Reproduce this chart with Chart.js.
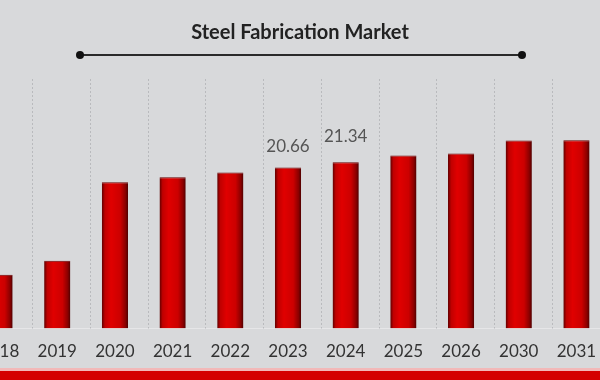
<!DOCTYPE html>
<html>
<head>
<meta charset="utf-8">
<script src="https://cdn.jsdelivr.net/npm/chart.js@4.4.1/dist/chart.umd.min.js"></script>
<style>
  html, body { margin: 0; padding: 0; width: 600px; height: 380px; overflow: hidden; background: #d8d9db; }
  #wrap { position: relative; width: 600px; height: 380px; overflow: hidden; }
  #title { position: absolute; left: 0; top: 19px; width: 600px; text-align: center; font: bold 20px Lato, sans-serif; color: #222; }
  #rule { position: absolute; left: 80px; top: 54px; width: 442px; height: 2px; background: #2a2a2a; }
  .dot { position: absolute; top: 51px; width: 8px; height: 8px; border-radius: 50%; background: #111; }
  #chartBox { position: absolute; left: -33px; top: 0; width: 642px; height: 375px; }
  #pink { position: absolute; left: 0; top: 368px; width: 600px; height: 3px; background: #f2b8b8; }
  #band { position: absolute; left: 0; top: 371px; width: 600px; height: 9px; background: #d40000; }
</style>
</head>
<body>
<div id="wrap">
  <div id="chartBox"><canvas id="c" width="642" height="375"></canvas></div>
  <div id="title">Steel Fabrication Market</div>
  <div id="rule"></div>
  <div class="dot" style="left:76px"></div>
  <div class="dot" style="left:518px"></div>
  <div id="pink"></div>
  <div id="band"></div>
</div>
<script>
const categories = ['2018', '2019', '2020', '2021', '2022', '2023', '2024', '2025', '2026', '2030', '2031'];
const marketValues = [6.9, 8.7, 18.75, 19.4, 20.0, 20.66, 21.34, 22.2, 22.45, 24.1, 24.15];
const labelledIndexes = [5, 6];

const gridPlugin = {
  id: 'shiftedGrid',
  beforeDatasetsDraw(chart) {
    const x = chart.scales.x, a = chart.chartArea, ctx = chart.ctx;
    ctx.save();
    ctx.strokeStyle = '#b9babd';
    ctx.lineWidth = 1;
    ctx.setLineDash([2, 2]);
    for (let i = 0; i < categories.length - 1; i++) {
      const px = Math.round((x.getPixelForValue(i) + x.getPixelForValue(i + 1)) / 2 + 4) + 0.5;
      ctx.beginPath();
      ctx.moveTo(px, a.top);
      ctx.lineTo(px, a.bottom);
      ctx.stroke();
    }
    ctx.restore();
  }
};

const labelPlugin = {
  id: 'valueLabels',
  afterDatasetsDraw(chart, args, opts) {
    const meta = chart.getDatasetMeta(0), ctx = chart.ctx;
    ctx.save();
    ctx.font = '17px Lato, sans-serif';
    ctx.fillStyle = '#555';
    ctx.textAlign = 'center';
    ctx.textBaseline = 'middle';
    labelledIndexes.forEach((i, k) => {
      const el = meta.data[i];
      ctx.fillText(marketValues[i].toFixed(2), el.x, el.y - opts.offsets[k]);
    });
    ctx.restore();
  }
};

function barGradient(context) {
  const chart = context.chart;
  const xs = chart.scales && chart.scales.x;
  if (!chart.chartArea || !xs || context.dataIndex === undefined) return '#cc0000';
  const cx = xs.getPixelForValue(context.dataIndex);
  const w = (xs.width / categories.length) * 0.9 * 0.505;
  if (!isFinite(cx) || !isFinite(w)) return '#cc0000';
  const g = chart.ctx.createLinearGradient(cx - w / 2, 0, cx + w / 2, 0);
  g.addColorStop(0, '#5e0000');
  g.addColorStop(0.12, '#c00000');
  g.addColorStop(0.35, '#e00000');
  g.addColorStop(0.7, '#cc0000');
  g.addColorStop(0.9, '#8a0000');
  g.addColorStop(1, '#4e0000');
  return g;
}

new Chart(document.getElementById('c'), {
  type: 'bar',
  data: {
    labels: categories,
    datasets: [{
      data: marketValues,
      backgroundColor: barGradient,
      borderColor: '#6a0000',
      borderWidth: { top: 1, left: 0, right: 0, bottom: 0 },
      categoryPercentage: 0.9,
      barPercentage: 0.505
    }]
  },
  options: {
    responsive: false,
    animation: false,
    devicePixelRatio: 1,
    layout: { padding: { top: 79, left: 0, right: 0, bottom: 0 } },
    plugins: {
      legend: { display: false },
      tooltip: { enabled: false },
      valueLabels: { offsets: [21, 26] }
    },
    scales: {
      x: {
        grid: { display: false, drawTicks: false },
        border: { display: true, color: '#e6e6e8', width: 1 },
        ticks: { color: '#333', padding: 13, font: { family: 'Lato, sans-serif', size: 17 } }
      },
      y: { display: false, min: 0, max: 32 }
    }
  },
  plugins: [gridPlugin, labelPlugin]
});
</script>
</body>
</html>
